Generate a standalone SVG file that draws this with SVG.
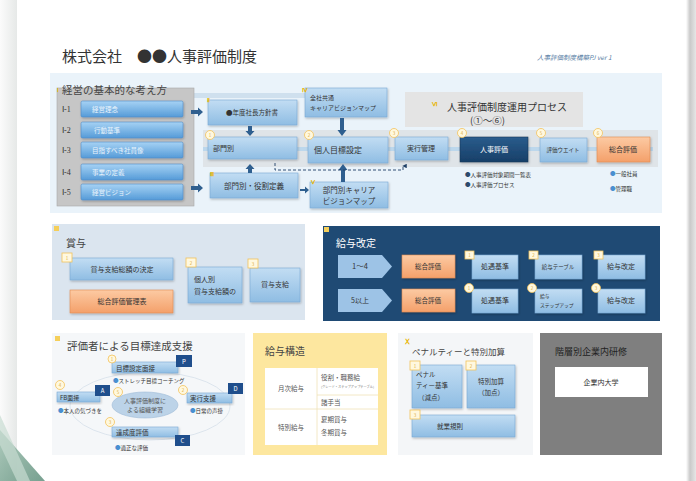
<svg xmlns="http://www.w3.org/2000/svg" width="696" height="481" viewBox="0 0 696 481">
<defs>
<linearGradient id="gLight" x1="0" y1="0" x2="0" y2="1"><stop offset="0" stop-color="#c2ddf3"/><stop offset="1" stop-color="#8fbde3"/></linearGradient>
<linearGradient id="gBtn" x1="0" y1="0" x2="0" y2="1"><stop offset="0" stop-color="#a6d2f4"/><stop offset="1" stop-color="#559bd8"/></linearGradient>
<linearGradient id="gOr" x1="0" y1="0" x2="0" y2="1"><stop offset="0" stop-color="#fccaa3"/><stop offset="1" stop-color="#f4a06a"/></linearGradient>
<linearGradient id="gDark" x1="0" y1="0" x2="0" y2="1"><stop offset="0" stop-color="#2a5c8c"/><stop offset="1" stop-color="#173f68"/></linearGradient>
<linearGradient id="gShadowR" x1="0" y1="0" x2="1" y2="0"><stop offset="0" stop-color="#ffffff"/><stop offset="0.4" stop-color="#c9c9c9"/><stop offset="1" stop-color="#e6e6e6"/></linearGradient>
<linearGradient id="gShadowL" x1="0" y1="0" x2="1" y2="0"><stop offset="0" stop-color="#f4f4f4"/><stop offset="1" stop-color="#b8bfbc"/></linearGradient>
<linearGradient id="gGreen" x1="0" y1="0" x2="1" y2="1"><stop offset="0" stop-color="#9fc1b0"/><stop offset="1" stop-color="#5f8f7c"/></linearGradient>
<filter id="sh" x="-10%" y="-10%" width="130%" height="140%"><feDropShadow dx="0.8" dy="1.2" stdDeviation="0.8" flood-color="#000" flood-opacity="0.25"/></filter>
<marker id="ahUp" viewBox="0 0 6 6" refX="3" refY="1" markerWidth="5" markerHeight="5" orient="auto"><path d="M0,6 L3,0 L6,6 Z" fill="#1f3f66"/></marker>
<marker id="ahLb" viewBox="0 0 10 10" refX="9" refY="5" markerWidth="4" markerHeight="4" orient="auto"><path d="M0,0 L10,5 L0,10 Z" fill="#9dc3e6"/></marker>
<style>
text{font-family:"Noto Sans CJK JP","Noto Sans",sans-serif;}
.lb{fill:url(#gLight);stroke:#7aa9d4;stroke-width:0.6;filter:url(#sh);}
.btn{fill:url(#gBtn);stroke:#4f8cc7;stroke-width:0.6;filter:url(#sh);}
.or{fill:url(#gOr);stroke:#e08a50;stroke-width:0.6;filter:url(#sh);}
.dk{fill:url(#gDark);stroke:#143658;stroke-width:0.6;filter:url(#sh);}
.circ{fill:#fff8df;stroke:#f2c25a;stroke-width:0.8;}
.sq{fill:#fff8df;stroke:#f2c25a;stroke-width:0.8;}
.cn{font-size:4.5px;fill:#e0b040;text-anchor:middle;}
.rom{font-size:6px;fill:#e8b400;font-family:"Liberation Serif",serif;font-weight:bold;}
.bt{font-size:7px;fill:#333;}
.btw{font-size:6.5px;fill:#eaf4fc;}
.c{text-anchor:middle;}
.ba{fill:#2f5f8f;}
.h{font-size:11px;fill:#444;}
.sm{font-size:5.5px;fill:#333;}
.num{font-family:"Liberation Serif",serif;font-size:8px;fill:#333;}
</style>
</defs>

<!-- page background -->
<rect x="0" y="0" width="696" height="481" fill="#ffffff"/>
<rect x="0" y="0" width="17" height="481" fill="url(#gShadowL)" opacity="0.35"/>
<rect x="686" y="0" width="10" height="481" fill="url(#gShadowR)"/>
<polygon points="0,430 45,481 0,481" fill="url(#gGreen)" opacity="0.85"/>
<polygon points="0,415 30,481 17,481 0,445" fill="#c8dcd2" opacity="0.7"/>

<!-- header -->
<g id="header">
<text x="62" y="62" font-size="15" fill="#333">株式会社　●●人事評価制度</text>
<text x="537" y="60" font-size="6.5" font-style="italic" fill="#5b7fa6">人事評価制度構築PJ  ver 1</text>
</g>

<!-- section I-VI panel -->
<rect x="50" y="73" width="612" height="140" fill="#eaf3fa"/>
<rect x="194" y="93" width="111" height="5" fill="#cfe0ee"/>
<rect x="203" y="130" width="455" height="37" fill="#dfe4e8"/>
<rect x="203" y="147" width="450" height="4" fill="#bcd7ec"/>

<g id="basics">
<rect x="57" y="88" width="137" height="118" fill="#c6c6c6" stroke="#a8a8a8" stroke-width="0.6"/>
<text x="57" y="92" class="rom">Ⅰ</text>
<text x="62" y="94" class="h" style="font-size:10.5px">経営の基本的な考え方</text>
<text x="62" y="112" class="num">Ⅰ-1</text>
<text x="62" y="133" class="num">Ⅰ-2</text>
<text x="62" y="153" class="num">Ⅰ-3</text>
<text x="62" y="175" class="num">Ⅰ-4</text>
<text x="62" y="195" class="num">Ⅰ-5</text>
</g>
<g id="I-1"><rect class="btn" x="81" y="101" width="102" height="16" rx="1.5"/><text class="btw" x="92" y="111.5">経営理念</text></g>
<g id="I-2"><rect class="btn" x="81" y="122" width="102" height="16" rx="1.5"/><text class="btw" x="94" y="132.5">行動基準</text></g>
<g id="I-3"><rect class="btn" x="81" y="142" width="102" height="16" rx="1.5"/><text class="btw" x="92" y="152.5">目指すべき社員像</text></g>
<g id="I-4"><rect class="btn" x="81" y="164" width="102" height="16" rx="1.5"/><text class="btw" x="92" y="174.5">事業の定義</text></g>
<g id="I-5"><rect class="btn" x="81" y="184" width="102" height="16" rx="1.5"/><text class="btw" x="92" y="194.5">経営ビジョン</text></g>

<g id="policy">
<rect class="lb" x="208" y="100" width="89" height="25"/>
<text x="207" y="102" class="rom">Ⅱ</text>
<text class="bt c" x="252" y="115" style="font-size:6.5px">●年度社長方針書</text>
</g>
<g id="career-common">
<rect class="lb" x="305" y="88" width="82" height="29"/>
<text x="302" y="92" class="rom">Ⅳ</text>
<text class="bt" x="310" y="100" style="font-size:6px">全社共通</text>
<text class="bt" x="310" y="110" style="font-size:6px">キャリアビジョンマップ</text>
</g>
<g id="dept">
<rect class="lb" x="208" y="137" width="89" height="22"/>
<circle class="circ" cx="210" cy="135" r="4.5"/><text class="cn" x="210" y="136.5">1</text>
<text class="bt" x="213" y="151">部門別</text>
</g>
<g id="personal">
<rect class="lb" x="308" y="137" width="80" height="26"/>
<circle class="circ" cx="309" cy="135" r="4.5"/><text class="cn" x="309" y="136.5">2</text>
<text class="bt" x="314" y="153" style="font-size:8px">個人目標設定</text>
</g>
<g id="execution">
<rect class="lb" x="395" y="137" width="53" height="23"/>
<circle class="circ" cx="394" cy="133" r="4.5"/><text class="cn" x="394" y="134.5">3</text>
<text class="bt c" x="421" y="151">実行管理</text>
</g>
<g id="evaluation">
<rect class="dk" x="460" y="137" width="68" height="25"/>
<circle class="circ" cx="462" cy="133" r="4.5"/><text class="cn" x="462" y="134.5">4</text>
<text class="c" x="494" y="152" font-size="7" fill="#ffffff">人事評価</text>
<text class="sm" x="465" y="177"><tspan fill="#2e4a6b">●</tspan>人事評価対象期間一覧表</text>
<text class="sm" x="465" y="187"><tspan fill="#2e4a6b">●</tspan>人事評価プロセス</text>
</g>
<g id="weight">
<rect class="lb" x="540" y="138" width="47" height="24"/>
<circle class="circ" cx="541" cy="133" r="4.5"/><text class="cn" x="541" y="134.5">5</text>
<text class="bt c" x="563" y="152" style="font-size:5.5px">評価ウエイト</text>
</g>
<g id="total">
<rect class="or" x="597" y="137" width="53" height="25"/>
<circle class="circ" cx="598" cy="133" r="4.5"/><text class="cn" x="598" y="134.5">6</text>
<text class="bt c" x="623" y="152">総合評価</text>
<text class="sm" x="610" y="176"><tspan fill="#4a8fd0">●</tspan>一般社員</text>
<text class="sm" x="610" y="191"><tspan fill="#4a8fd0">●</tspan>管理職</text>
</g>
<g id="role">
<rect class="lb" x="210" y="173" width="88" height="25"/>
<text x="210" y="176" class="rom">Ⅲ</text>
<text class="bt c" x="254" y="189" style="font-size:7.5px">部門別・役割定義</text>
</g>
<g id="career-dept">
<rect class="lb" x="310" y="182" width="78" height="26"/>
<text x="311" y="184" class="rom">Ⅴ</text>
<text class="bt c" x="349" y="193" style="font-size:7.5px">部門別キャリア</text>
<text class="bt c" x="349" y="204" style="font-size:7.5px">ビジョンマップ</text>
</g>
<g id="process-title">
<rect x="405" y="92" width="178" height="35" fill="#e4e4e4"/>
<text x="432" y="106" class="rom">Ⅵ</text>
<text x="447" y="111" font-size="10" fill="#333">人事評価制度運用プロセス</text>
<text x="470" y="124" font-size="9.5" fill="#333">(①〜⑥)</text>
</g>

<g id="connectors">
<path class="ba" d="M191,110 H198 V107.5 L203,112 L198,116.5 V114 H191 Z"/>
<path class="ba" d="M191,186 H198 V183.5 L203,188 L198,192.5 V190 H191 Z"/>
<path class="ba" d="M248,126 V131 H245.5 L250,136 L254.5,131 H252 V126 Z"/>
<path class="ba" d="M340,118 V130 H337.5 L342,136 L346.5,130 H344 V118 Z"/>
<path class="ba" d="M248,173 V169 H245.5 L250,164 L254.5,169 H252 V173 Z"/>
<path class="ba" d="M341,182 V170 H338.5 L343,164 L347.5,170 H345 V182 Z"/>
<path class="ba" d="M300,189 H305 V186.5 L309,190 L305,193.5 V191 H300 Z"/>
<path d="M275,163 V170 H403 V166" fill="none" stroke="#1f3f66" stroke-width="0.9" stroke-dasharray="3,2" marker-end="url(#ahUp)"/>
<path class="ba" d="M243,283.5 H246 V281.5 L250,285 L246,288.5 V286.5 H243 Z"/>
<line x1="455" y1="266.5" x2="472" y2="266.5" stroke="#9dc3e6" stroke-width="3"/>
<line x1="518" y1="266.5" x2="535" y2="266.5" stroke="#9dc3e6" stroke-width="3"/>
<line x1="582" y1="266.5" x2="597" y2="266.5" stroke="#9dc3e6" stroke-width="3" marker-end="url(#ahLb)"/>
<line x1="455" y1="300.5" x2="472" y2="300.5" stroke="#9dc3e6" stroke-width="3"/>
<line x1="518" y1="300.5" x2="535" y2="300.5" stroke="#9dc3e6" stroke-width="3"/>
<line x1="582" y1="300.5" x2="597" y2="300.5" stroke="#9dc3e6" stroke-width="3" marker-end="url(#ahLb)"/>
</g>

<!-- VII bonus -->
<g id="bonus">
<rect x="52" y="224" width="253" height="96" fill="#dbe5ef"/>
<rect x="54" y="226" width="5" height="5" fill="#f5cf5a"/>
<text x="66" y="247" class="h" style="font-size:10px">賞与</text>
<rect class="lb" x="70" y="258" width="103" height="22"/>
<rect class="sq" x="62" y="253" width="10" height="9"/><text class="cn" x="67" y="259.5">1</text>
<text class="bt c" x="122" y="272">賞与支給総額の決定</text>
<rect class="or" x="70" y="290" width="103" height="23"/>
<text class="bt c" x="122" y="304">総合評価管理表</text>
<rect class="lb" x="188" y="267" width="54" height="36"/>
<rect class="sq" x="186" y="258" width="10" height="9"/><text class="cn" x="191" y="264.5">2</text>
<text class="bt" x="194" y="282">個人別</text>
<text class="bt" x="194" y="294">賞与支給額の</text>
<rect class="lb" x="250" y="268" width="50" height="34"/>
<rect class="sq" x="248" y="259" width="10" height="9"/><text class="cn" x="253" y="265.5">3</text>
<text class="bt c" x="275" y="287">賞与支給</text>
</g>

<!-- VIII salary revision -->
<g id="salary-revision">
<rect x="323" y="226" width="337" height="95" fill="#1f4a74"/>
<rect x="324" y="227" width="5" height="5" fill="#f5cf5a"/>
<text x="336" y="247" font-size="10" fill="#ffffff">給与改定</text>
<polygon points="338,255 382,255 392,266.5 382,278 338,278" fill="#9dc3e6"/>
<text class="bt c" x="360" y="269" style="font-size:7.5px">1〜4</text>
<polygon points="338,289 382,289 392,300.5 382,312 338,312" fill="#9dc3e6"/>
<text class="bt c" x="360" y="303">5以上</text>
<rect class="or" x="402" y="255" width="53" height="23"/>
<text class="bt c" x="428" y="269" style="font-size:6.5px">総合評価</text>
<rect class="or" x="402" y="289" width="53" height="23"/>
<text class="bt c" x="428" y="303" style="font-size:6.5px">総合評価</text>
<rect class="lb" x="472" y="255" width="46" height="24"/>
<rect class="sq" x="465" y="251" width="9" height="8"/><text class="cn" x="469.5" y="257">1</text>
<text class="bt c" x="495" y="269">処遇基準</text>
<rect class="lb" x="472" y="289" width="46" height="24"/>
<circle class="circ" cx="469" cy="288" r="4.5"/><text class="cn" x="469" y="289.5">1</text>
<text class="bt c" x="495" y="303">処遇基準</text>
<rect class="lb" x="535" y="255" width="47" height="24"/>
<rect class="sq" x="529" y="251" width="9" height="8"/><text class="cn" x="533.5" y="257">2</text>
<text class="bt c" x="558" y="269" style="font-size:5.5px">給与テーブル</text>
<rect class="lb" x="535" y="289" width="47" height="24"/>
<circle class="circ" cx="532" cy="288" r="4.5"/><text class="cn" x="532" y="289.5">2</text>
<text class="bt" x="540" y="298" style="font-size:4.8px">給与</text>
<text class="bt" x="540" y="307" style="font-size:4.8px">ステップアップ</text>
<rect class="lb" x="598" y="255" width="47" height="24"/>
<rect class="sq" x="594" y="251" width="9" height="8"/><text class="cn" x="598.5" y="257">3</text>
<text class="bt c" x="621" y="269">給与改定</text>
<rect class="lb" x="598" y="289" width="47" height="24"/>
<circle class="circ" cx="596" cy="288" r="4.5"/><text class="cn" x="596" y="289.5">3</text>
<text class="bt c" x="621" y="303">給与改定</text>
</g>

<!-- IX -->
<g id="goal-support">
<rect x="52" y="333" width="193" height="122" fill="#f5f7f9"/>
<rect x="55" y="336" width="5" height="5" fill="#f5cf5a"/>
<text x="67" y="350" font-size="10.5" fill="#444">評価者による目標達成支援</text>
<ellipse cx="150" cy="406" rx="80" ry="34" fill="none" stroke="#d6e0ea" stroke-width="0.8"/>
<ellipse cx="145" cy="405" rx="33" ry="13" fill="#bcd3e8" stroke="#9ebbd6" stroke-width="0.6"/>
<circle class="circ" cx="118" cy="392" r="4.5"/><text class="cn" x="118" y="393.5">5</text>
<text class="c" x="145" y="403" font-size="6" fill="#555">人事評価制度に</text>
<text class="c" x="145" y="412" font-size="6" fill="#555">よる組織学習</text>
<rect class="lb" x="112" y="362" width="66" height="11"/>
<circle class="circ" cx="112" cy="359" r="4"/><text class="cn" x="112" y="360.5">1</text>
<text class="bt" x="116" y="370.5" style="font-size:6.5px">目標設定面接</text>
<rect x="176" y="355" width="16" height="12" fill="#1f4e8c"/><text class="c" x="184" y="363.5" font-size="6" fill="#fff">P</text>
<text class="sm" x="113" y="383"><tspan fill="#4a8fd0">●</tspan>ストレッチ目標コーチング</text>
<rect class="lb" x="57" y="392" width="43" height="10"/>
<circle class="circ" cx="60" cy="385" r="4.5"/><text class="cn" x="60" y="386.5">4</text>
<text class="bt" x="60" y="400" style="font-size:6px">FB面接</text>
<rect x="95" y="385" width="15" height="11" fill="#1f4e8c"/><text class="c" x="102.5" y="393" font-size="6" fill="#fff">A</text>
<text class="sm" x="58" y="413"><tspan fill="#4a8fd0">●</tspan>本人の気づきを</text>
<rect class="lb" x="187" y="393" width="45" height="10"/>
<circle class="circ" cx="183" cy="390" r="4.5"/><text class="cn" x="183" y="391.5">2</text>
<text class="bt" x="190" y="401" style="font-size:6.5px">実行支援</text>
<rect x="228" y="383" width="15" height="11" fill="#1f4e8c"/><text class="c" x="235.5" y="391" font-size="6" fill="#fff">D</text>
<text class="sm" x="190" y="413"><tspan fill="#4a8fd0">●</tspan>日常の声掛</text>
<rect class="lb" x="112" y="427" width="66" height="10"/>
<circle class="circ" cx="110" cy="422" r="4.5"/><text class="cn" x="110" y="423.5">3</text>
<text class="bt" x="116" y="435" style="font-size:6.5px">達成度評価</text>
<rect x="175" y="435" width="15" height="11" fill="#1f4e8c"/><text class="c" x="182.5" y="443" font-size="6" fill="#fff">C</text>
<text class="sm" x="115" y="450"><tspan fill="#4a8fd0">●</tspan>適正な評価</text>
</g>

<!-- salary structure -->
<g id="salary-structure">
<rect x="253" y="333" width="134" height="122" fill="#fde79f"/>
<text x="265" y="355" font-size="10" fill="#444">給与構造</text>
<rect x="265" y="368" width="113" height="77" fill="#ffffff"/>
<line x1="265" y1="409" x2="378" y2="409" stroke="#f0e2b8" stroke-width="0.8"/>
<line x1="317" y1="368" x2="317" y2="445" stroke="#f0e2b8" stroke-width="0.8"/>
<line x1="317" y1="395" x2="378" y2="395" stroke="#f0e2b8" stroke-width="0.8"/>
<text class="c" x="291" y="391" font-size="6.5" fill="#555">月次給与</text>
<text x="321" y="380" font-size="6.5" fill="#555">役割・職務給</text>
<text x="321" y="388" font-size="3.2" fill="#777">(グレード・ステップアップテーブル)</text>
<text x="321" y="405" font-size="6.5" fill="#555">諸手当</text>
<text class="c" x="291" y="430" font-size="6.5" fill="#555">特別給与</text>
<text x="321" y="422" font-size="6.5" fill="#555">夏期賞与</text>
<text x="321" y="435" font-size="6.5" fill="#555">冬期賞与</text>
</g>

<!-- X -->
<g id="penalty">
<rect x="398" y="333" width="135" height="122" fill="#f4f6f8"/>
<text x="405" y="344" class="rom" style="font-size:7px">Ⅹ</text>
<text x="412" y="355" font-size="8.5" fill="#444">ペナルティーと特別加算</text>
<rect class="lb" x="412" y="365" width="50" height="43"/>
<rect class="sq" x="410" y="361" width="10" height="9"/><text class="cn" x="415" y="367.5">1</text>
<text class="bt" x="416" y="377" style="font-size:6.5px">ペナル</text>
<text class="bt" x="416" y="388" style="font-size:6.5px">ティー基準</text>
<text class="bt" x="418" y="400" style="font-size:6.5px">（減点）</text>
<rect class="lb" x="467" y="365" width="48" height="43"/>
<rect class="sq" x="466" y="361" width="10" height="9"/><text class="cn" x="471" y="367.5">2</text>
<text class="bt c" x="491" y="384" style="font-size:6.5px">特別加算</text>
<text class="bt c" x="491" y="395" style="font-size:6.5px">（加点）</text>
<rect class="lb" x="412" y="415" width="103" height="22"/>
<rect class="sq" x="410" y="410" width="10" height="9"/><text class="cn" x="415" y="416.5">3</text>
<text class="bt" x="437" y="429" style="font-size:6.5px">就業規則</text>
</g>

<!-- training -->
<g id="training">
<rect x="540" y="333" width="122" height="122" fill="#7f7f7f"/>
<text x="555" y="355" font-size="9" fill="#222">階層別企業内研修</text>
<rect x="555" y="367" width="93" height="30" fill="#ffffff"/>
<text class="c" x="601" y="385" font-size="7" fill="#333">企業内大学</text>
</g>
</svg>
